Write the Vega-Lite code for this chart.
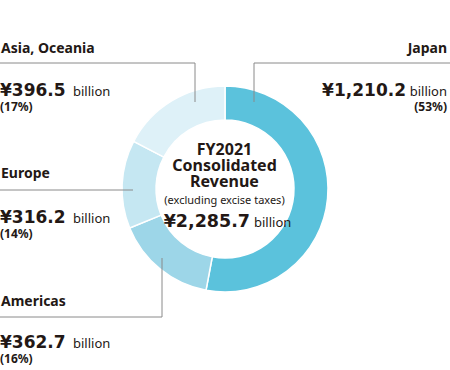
{
  "$schema": "https://vega.github.io/schema/vega-lite/v6.json",
  "width": 450,
  "height": 378,
  "autosize": "none",
  "padding": 0,
  "background": "white",
  "config": {
    "view": {"stroke": null},
    "locale": {"number": {"decimal": ".", "thousands": ",", "grouping": [3], "currency": ["¥", ""]}},
    "text": {"color": "#231815", "baseline": "alphabetic"},
    "rule": {"color": "#8a8a8a", "strokeWidth": 1}
  },
  "datasets": {
    "regions": [
      {"region": "Japan", "rank": 1, "value": 1210.2, "pct": "(53%)"},
      {"region": "Americas", "rank": 2, "value": 362.7, "pct": "(16%)"},
      {"region": "Europe", "rank": 3, "value": 316.2, "pct": "(14%)"},
      {"region": "Asia, Oceania", "rank": 4, "value": 396.5, "pct": "(17%)"}
    ],
    "total": [
      {"fy": "FY2021", "line1": "Consolidated", "line2": "Revenue", "note": "(excluding excise taxes)", "total": 2285.7, "unit": "billion"}
    ]
  },
  "data": {"name": "regions"},
  "layer": [
    {
      "mark": {"type": "arc", "innerRadius": 69, "outerRadius": 103, "stroke": "white", "strokeWidth": 1.5},
      "encoding": {
        "theta": {"field": "value", "type": "quantitative", "stack": true},
        "color": {"field": "region", "type": "nominal", "legend": null,
          "scale": {"domain": ["Japan", "Americas", "Europe", "Asia, Oceania"], "range": ["#5BC2DC", "#9DD6E8", "#C5E7F2", "#DEF1F8"]}},
        "order": {"field": "rank", "type": "quantitative"}
      }
    },
    {
      "transform": [{"filter": "datum.region === 'Japan'"}],
      "layer": [
        {"mark": {"type": "rule"}, "encoding": {"x": {"value": 254}, "x2": {"value": 450}, "y": {"value": 63}}},
        {"mark": {"type": "rule"}, "encoding": {"x": {"value": 254}, "y": {"value": 63}, "y2": {"value": 102}}},
        {"mark": {"type": "text", "align": "right", "font": "Noto Sans", "fontWeight": "bold", "fontSize": 14},
         "encoding": {"text": {"field": "region"}, "x": {"value": 447}, "y": {"value": 53}}},
        {"mark": {"type": "text", "align": "right", "font": "DejaVu Sans", "fontWeight": "bold", "fontSize": 17},
         "encoding": {"text": {"field": "value", "type": "quantitative", "format": "$,.1f"}, "x": {"value": 406}, "y": {"value": 96}}},
        {"mark": {"type": "text", "align": "right", "font": "Noto Sans", "fontSize": 13, "text": "billion"},
         "encoding": {"x": {"value": 447}, "y": {"value": 96}}},
        {"mark": {"type": "text", "align": "right", "font": "Noto Sans", "fontWeight": "bold", "fontSize": 12},
         "encoding": {"text": {"field": "pct"}, "x": {"value": 447}, "y": {"value": 111}}}
      ]
    },
    {
      "transform": [{"filter": "datum.region === 'Asia, Oceania'"}],
      "layer": [
        {"mark": {"type": "rule"}, "encoding": {"x": {"value": 0}, "x2": {"value": 195}, "y": {"value": 63}}},
        {"mark": {"type": "rule"}, "encoding": {"x": {"value": 195}, "y": {"value": 63}, "y2": {"value": 102}}},
        {"mark": {"type": "text", "align": "left", "font": "Noto Sans", "fontWeight": "bold", "fontSize": 14},
         "encoding": {"text": {"field": "region"}, "x": {"value": 1}, "y": {"value": 53}}},
        {"mark": {"type": "text", "align": "left", "font": "DejaVu Sans", "fontWeight": "bold", "fontSize": 17},
         "encoding": {"text": {"field": "value", "type": "quantitative", "format": "$,.1f"}, "x": {"value": 0}, "y": {"value": 96}}},
        {"mark": {"type": "text", "align": "left", "font": "Noto Sans", "fontSize": 13, "text": "billion"},
         "encoding": {"x": {"value": 73}, "y": {"value": 96}}},
        {"mark": {"type": "text", "align": "left", "font": "Noto Sans", "fontWeight": "bold", "fontSize": 12},
         "encoding": {"text": {"field": "pct"}, "x": {"value": 0}, "y": {"value": 111}}}
      ]
    },
    {
      "transform": [{"filter": "datum.region === 'Europe'"}],
      "layer": [
        {"mark": {"type": "rule"}, "encoding": {"x": {"value": 0}, "x2": {"value": 133}, "y": {"value": 190}}},
        {"mark": {"type": "text", "align": "left", "font": "Noto Sans", "fontWeight": "bold", "fontSize": 14},
         "encoding": {"text": {"field": "region"}, "x": {"value": 1}, "y": {"value": 178}}},
        {"mark": {"type": "text", "align": "left", "font": "DejaVu Sans", "fontWeight": "bold", "fontSize": 17},
         "encoding": {"text": {"field": "value", "type": "quantitative", "format": "$,.1f"}, "x": {"value": 0}, "y": {"value": 223}}},
        {"mark": {"type": "text", "align": "left", "font": "Noto Sans", "fontSize": 13, "text": "billion"},
         "encoding": {"x": {"value": 73}, "y": {"value": 223}}},
        {"mark": {"type": "text", "align": "left", "font": "Noto Sans", "fontWeight": "bold", "fontSize": 12},
         "encoding": {"text": {"field": "pct"}, "x": {"value": 0}, "y": {"value": 238}}}
      ]
    },
    {
      "transform": [{"filter": "datum.region === 'Americas'"}],
      "layer": [
        {"mark": {"type": "rule"}, "encoding": {"x": {"value": 0}, "x2": {"value": 162}, "y": {"value": 317}}},
        {"mark": {"type": "rule"}, "encoding": {"x": {"value": 162}, "y": {"value": 258}, "y2": {"value": 317}}},
        {"mark": {"type": "text", "align": "left", "font": "Noto Sans", "fontWeight": "bold", "fontSize": 14},
         "encoding": {"text": {"field": "region"}, "x": {"value": 1}, "y": {"value": 306}}},
        {"mark": {"type": "text", "align": "left", "font": "DejaVu Sans", "fontWeight": "bold", "fontSize": 17},
         "encoding": {"text": {"field": "value", "type": "quantitative", "format": "$,.1f"}, "x": {"value": 0}, "y": {"value": 348}}},
        {"mark": {"type": "text", "align": "left", "font": "Noto Sans", "fontSize": 13, "text": "billion"},
         "encoding": {"x": {"value": 73}, "y": {"value": 348}}},
        {"mark": {"type": "text", "align": "left", "font": "Noto Sans", "fontWeight": "bold", "fontSize": 12},
         "encoding": {"text": {"field": "pct"}, "x": {"value": 0}, "y": {"value": 363}}}
      ]
    },
    {
      "data": {"name": "total"},
      "layer": [
        {"mark": {"type": "text", "align": "center", "font": "Noto Sans", "fontWeight": "bold", "fontSize": 16},
         "encoding": {"text": {"field": "fy"}, "x": {"value": 224.5}, "y": {"value": 155}}},
        {"mark": {"type": "text", "align": "center", "font": "Noto Sans", "fontWeight": "bold", "fontSize": 16},
         "encoding": {"text": {"field": "line1"}, "x": {"value": 224.5}, "y": {"value": 171}}},
        {"mark": {"type": "text", "align": "center", "font": "Noto Sans", "fontWeight": "bold", "fontSize": 16},
         "encoding": {"text": {"field": "line2"}, "x": {"value": 224.5}, "y": {"value": 187}}},
        {"mark": {"type": "text", "align": "center", "font": "Noto Sans", "fontSize": 11},
         "encoding": {"text": {"field": "note"}, "x": {"value": 224.5}, "y": {"value": 204}}},
        {"mark": {"type": "text", "align": "right", "font": "DejaVu Sans", "fontWeight": "bold", "fontSize": 17.5},
         "encoding": {"text": {"field": "total", "type": "quantitative", "format": "$,.1f"}, "x": {"value": 250}, "y": {"value": 227}}},
        {"mark": {"type": "text", "align": "left", "font": "Noto Sans", "fontSize": 13},
         "encoding": {"text": {"field": "unit"}, "x": {"value": 254}, "y": {"value": 227}}}
      ]
    }
  ]
}
